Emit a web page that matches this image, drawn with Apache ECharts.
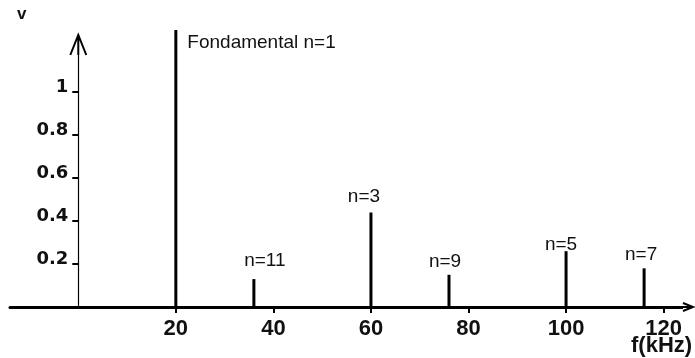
<!DOCTYPE html>
<html>
<head>
<meta charset="utf-8">
<script src="https://cdn.jsdelivr.net/npm/echarts@6/dist/echarts.min.js"></script>
<style>
  html, body { margin: 0; padding: 0; background: #fff; }
  #chart { width: 695px; height: 358px; }
</style>
</head>
<body>
<div id="chart"></div>
<script>
// spectre : raies (kHz) et amplitudes
var freqs = [20, 36, 60, 76, 100, 116];
var amps = [1.29, 0.13, 0.44, 0.15, 0.26, 0.18];
var names = ['Fondamental n=1', 'n=11', 'n=3', 'n=9', 'n=5', 'n=7'];
var xTicks = [20, 40, 60, 80, 100, 120];
var yTicks = [0.2, 0.4, 0.6, 0.8, 1];

var chart = echarts.init(document.getElementById('chart'));

// petits decalages des etiquettes, comme sur l'original
var labelShift = [null, [11, -5], [-7, -2], [-4, 0], [-5, 7], [-3, 0]];
var arrowPath = 'emptyPath://M0,20 L8,0 L16,20 M8,0 L8,20';

// l'axe des x depasse a gauche de l'axe vertical
var xMin = -14, xMax = 125;
var gridLeft = 10, gridRight = 7;
var yShift = (0 - xMin) / (xMax - xMin) * (695 - gridLeft - gridRight);

var lines = freqs.map(function (f, i) {
  var item = { value: [f, amps[i]], name: names[i] };
  if (i === 0) {
    item.label = { position: [13, 3], align: 'left', verticalAlign: 'top' };
  } else {
    item.label = { offset: labelShift[i] };
  }
  return item;
});

var option = {
  backgroundColor: '#fff',
  animation: false,
  title: [{
    text: 'v',
    left: 12,
    top: 1,
    textStyle: { fontFamily: 'Liberation Sans', fontSize: 17, fontWeight: 'bold', color: '#111' }
  }, {
    text: 'f(kHz)',
    left: 631,
    top: 335,
    padding: 0,
    textStyle: { fontFamily: 'Liberation Sans', fontSize: 22, fontWeight: 'bold', color: '#111' }
  }],
  grid: { left: gridLeft, right: gridRight, top: 45, bottom: 51, containLabel: false, outerBoundsMode: 'none' },
  xAxis: {
    type: 'value',
    min: xMin,
    max: xMax,
    splitLine: { show: false },
    axisLine: {
      onZero: true,
      symbol: ['none', arrowPath],
      symbolSize: [8, 10],
      lineStyle: { color: '#000', width: 3 }
    },
    axisTick: { customValues: xTicks, length: 6, lineStyle: { color: '#000', width: 2 } },
    axisLabel: {
      customValues: xTicks,
      margin: 11,
      fontFamily: 'Liberation Sans',
      fontSize: 22,
      fontWeight: 'bold',
      color: '#111'
    }
  },
  yAxis: {
    type: 'value',
    min: 0,
    max: 1.22,
    offset: -yShift,
    splitLine: { show: false },
    axisLine: {
      onZero: false,
      symbol: ['none', arrowPath],
      symbolSize: [16, 20],
      lineStyle: { color: '#000', width: 1.2 }
    },
    axisTick: { customValues: yTicks, length: 6, lineStyle: { color: '#000', width: 2 } },
    axisLabel: {
      customValues: yTicks,
      margin: 10,
      verticalAlign: 'bottom',
      lineHeight: 10,
      fontFamily: 'DejaVu Sans',
      fontSize: 18,
      fontWeight: 'bold',
      color: '#111'
    }
  },
  series: [{
    type: 'bar',
    barWidth: 3,
    clip: false,
    itemStyle: { color: '#000' },
    label: {
      show: true,
      position: 'top',
      distance: 4,
      formatter: '{b}',
      fontFamily: 'Liberation Sans',
      fontSize: 19,
      color: '#111'
    },
    data: lines
  }]
};

chart.setOption(option);
</script>
</body>
</html>
